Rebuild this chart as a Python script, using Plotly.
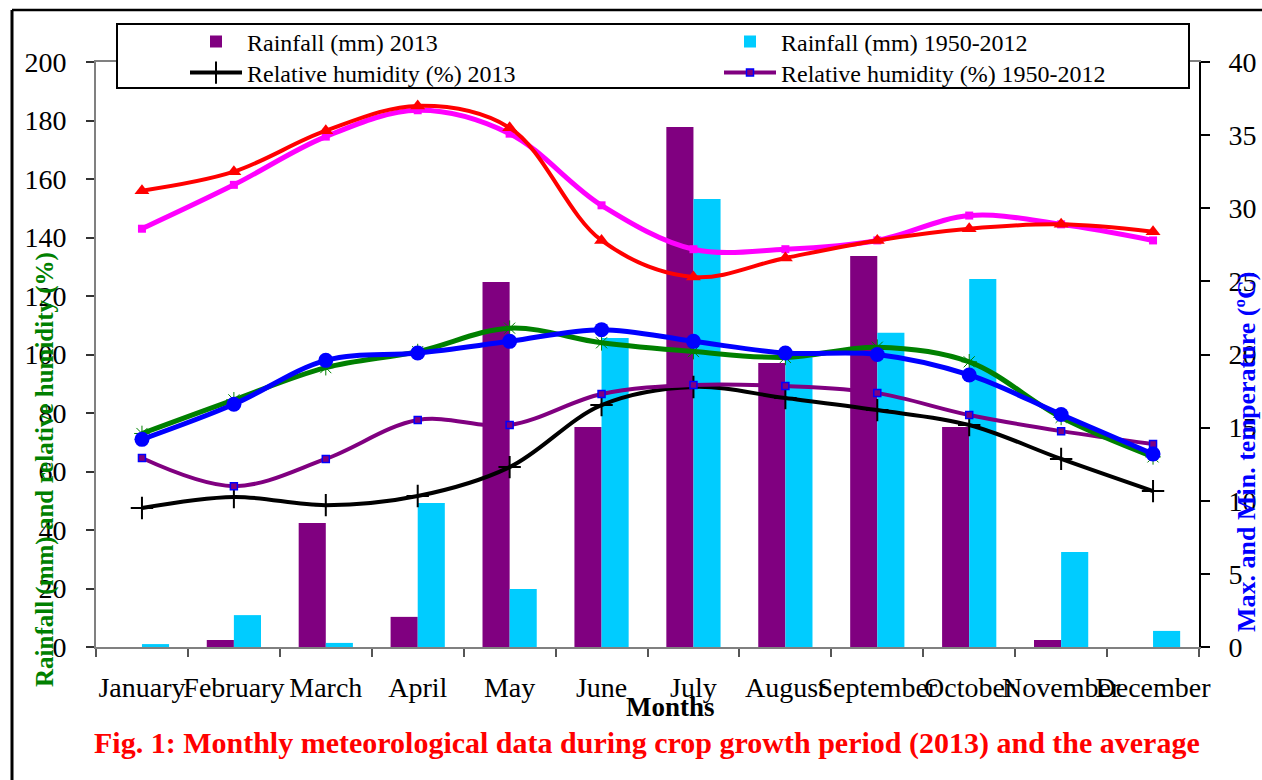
import plotly.graph_objects as go

months = ["January", "February", "March", "April", "May", "June", "July",
          "August", "September", "October", "November", "December"]

rain_2013 = [0, 2.4, 42.4, 10.3, 124.8, 75.2, 177.8, 97.1, 133.7, 75.2, 2.4, 0]
rain_avg = [1.0, 10.9, 1.4, 49.2, 19.8, 105.6, 153.2, 99.1, 107.4, 125.8, 32.5, 5.5]

rh_2013 = [47.5, 51.3, 48.5, 51.6, 61.5, 82.7, 88.9, 85.1, 81.0, 75.9, 64.3, 53.3]
rh_avg = [64.6, 55.0, 64.3, 77.6, 75.9, 86.5, 89.6, 89.2, 86.8, 79.3, 73.8, 69.4]

tmax_2013 = [31.2, 32.5, 35.3, 37.0, 35.5, 27.8, 25.3, 26.6, 27.8, 28.6, 28.9, 28.4]
tmax_avg = [28.6, 31.6, 34.9, 36.7, 35.1, 30.2, 27.2, 27.2, 27.8, 29.5, 28.9, 27.8]
tmin_2013 = [14.6, 16.9, 19.1, 20.2, 21.8, 20.8, 20.2, 19.8, 20.5, 19.5, 15.7, 13.0]
tmin_avg = [14.2, 16.6, 19.6, 20.1, 20.9, 21.7, 20.9, 20.1, 20.0, 18.6, 15.9, 13.2]

FONT = "Liberation Serif, Times New Roman, serif"

# pixel -> paper helpers (plot area: x 96..1199, y 62..647)
L, R, T, B = 96, 1199, 62, 647
def px(x):
    return (x - L) / (R - L)
def py(y):
    return (B - y) / (B - T)

fig = go.Figure()

fig.add_trace(go.Bar(x=months, y=rain_2013, name="Rainfall (mm) 2013",
                     marker=dict(color="#800080", line=dict(width=0)),
                     yaxis="y", legend="legend"))
fig.add_trace(go.Bar(x=months, y=rain_avg, name="Rainfall (mm) 1950-2012",
                     marker=dict(color="#00CCFF", line=dict(width=0)),
                     yaxis="y", legend="legend2"))

fig.add_trace(go.Scatter(x=months, y=rh_2013, name="Relative humidity (%) 2013",
                         mode="lines+markers", line=dict(color="black", width=4, shape="spline"),
                         marker=dict(symbol="cross-thin-open", size=16,
                                     line=dict(color="#008080", width=2)),
                         yaxis="y", legend="legend3"))
fig.add_trace(go.Scatter(x=months, y=rh_avg, name="Relative humidity (%) 1950-2012",
                         mode="lines+markers", line=dict(color="#800080", width=4, shape="spline"),
                         marker=dict(symbol="square", size=7, color="#800080",
                                     line=dict(color="#0000FF", width=1.5)),
                         yaxis="y", legend="legend4"))

fig.add_trace(go.Scatter(x=months, y=tmin_2013, name="Min. temperature (ºC) 2013",
                         mode="lines+markers", line=dict(color="#008000", width=5, shape="spline"),
                         marker=dict(symbol="asterisk-open", size=13,
                                     line=dict(color="#008000", width=1)),
                         yaxis="y2", showlegend=False))
fig.add_trace(go.Scatter(x=months, y=tmin_avg, name="Min. temperature (ºC) 1950-2012",
                         mode="lines+markers", line=dict(color="#0000FF", width=5, shape="spline"),
                         marker=dict(symbol="circle", size=15, color="#0000FF"),
                         yaxis="y2", showlegend=False))
fig.add_trace(go.Scatter(x=months, y=tmax_avg, name="Max. temperature (ºC) 1950-2012",
                         mode="lines+markers", line=dict(color="#FF00FF", width=5, shape="spline"),
                         marker=dict(symbol="square", size=8, color="#FF00FF"),
                         yaxis="y2", showlegend=False))
fig.add_trace(go.Scatter(x=months, y=tmax_2013, name="Max. temperature (ºC) 2013",
                         mode="lines+markers", line=dict(color="#FF0000", width=4, shape="spline"),
                         marker=dict(symbol="triangle-up", size=13, color="#FF0000"),
                         yaxis="y2", showlegend=False))

tickfont = dict(family=FONT, size=28, color="black")

def leg(xpix, ypix):
    return dict(x=px(xpix), xanchor="left", y=py(ypix), yanchor="middle",
                orientation="v", bgcolor="rgba(0,0,0,0)", borderwidth=0,
                font=dict(family=FONT, size=24, color="black"),
                itemwidth=52, traceorder="normal", tracegroupgap=0)

fig.update_layout(
    width=1262, height=780,
    margin=dict(l=L, r=1262 - R, t=T, b=780 - B, pad=0, autoexpand=False),
    paper_bgcolor="white", plot_bgcolor="white",
    barmode="group", bargap=0.41, bargroupgap=0,
    font=dict(family=FONT, color="black"),
    xaxis=dict(type="category", range=[-0.5, len(months) - 0.5], showgrid=False, zeroline=False,
               showline=True, linecolor="#808080", linewidth=2, mirror=True,
               ticks="outside", tickson="boundaries", ticklen=8, tickcolor="#555555", tickwidth=1.5,
               tickangle=0, tickfont=tickfont, ticklabelstandoff=14),
    yaxis=dict(range=[0, 200], dtick=20, showgrid=False, zeroline=False,
               showline=True, linecolor="#808080", linewidth=2,
               ticks="outside", ticklen=8, tickcolor="#333333", tickwidth=2,
               tickfont=tickfont, ticklabelstandoff=14),
    yaxis2=dict(range=[0, 40], dtick=5, overlaying="y", side="right", anchor="x",
                showgrid=False, zeroline=False, showline=True, linecolor="black", linewidth=2,
                ticks="outside", ticklen=9, tickcolor="black", tickwidth=1.5,
                tickfont=tickfont, ticklabelstandoff=13),
    yaxis3=dict(range=[0, 40], dtick=5, overlaying="y", side="right", anchor="x",
                showgrid=False, zeroline=False, showline=False, showticklabels=False,
                ticks="inside", ticklen=9, tickcolor="black", tickwidth=1.5),
    legend=leg(185, 42),
    legend2=leg(719, 42),
    legend3=leg(185, 73),
    legend4=leg(719, 73),
    shapes=[
        # legend box
        dict(type="rect", xref="paper", yref="paper", layer="above",
             x0=px(117), x1=px(1189), y0=py(88), y1=py(24),
             fillcolor="white", line=dict(color="black", width=2)),
        # outer frame (left and top edges)
        dict(type="line", xref="paper", yref="paper", layer="above",
             x0=px(12), x1=px(12), y0=py(10), y1=py(790),
             line=dict(color="black", width=3)),
        dict(type="line", xref="paper", yref="paper", layer="above",
             x0=px(12), x1=px(1270), y0=py(10), y1=py(10),
             line=dict(color="black", width=2.5)),
    ],
    annotations=[
        dict(text="<b>Rainfall (mm) and relative humidity (%)</b>", xref="paper", yref="paper",
             x=px(45), y=py(470), xanchor="center", yanchor="middle", textangle=-90,
             showarrow=False, font=dict(family=FONT, size=25, color="#008000")),
        dict(text="<b>Max. and Min. temperature (ºC)</b>", xref="paper", yref="paper",
             x=px(1246), y=py(452), xanchor="center", yanchor="middle", textangle=-90,
             showarrow=False, font=dict(family=FONT, size=26, color="#0000FF")),
        dict(text="<b>Months</b>", xref="paper", yref="paper",
             x=px(670), y=py(707), xanchor="center", yanchor="middle",
             showarrow=False, font=dict(family=FONT, size=27, color="black")),
        dict(text="<b>Fig. 1: Monthly meteorological data during crop growth period (2013) and the average</b>",
             xref="paper", yref="paper",
             x=px(647), y=py(743), xanchor="center", yanchor="middle",
             showarrow=False, font=dict(family=FONT, size=30, color="#FF0000")),
    ],
)

fig.write_html("out.html", config={"displayModeBar": False},
               post_script="document.body.style.margin='0';")
